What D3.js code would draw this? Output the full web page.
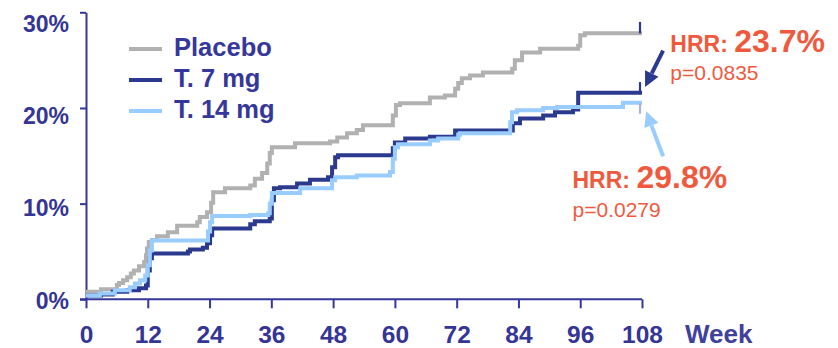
<!DOCTYPE html>
<html>
<head>
<meta charset="utf-8">
<script src="https://cdn.jsdelivr.net/npm/d3@7"></script>
<style>
  html, body { margin: 0; padding: 0; background: #ffffff; }
  svg { display: block; font-family: "Liberation Sans", Arial, sans-serif; }
</style>
</head>
<body>
<svg id="chart" width="838" height="348"></svg>
<script>
// ---------- data ----------
const xTicks = [0, 12, 24, 36, 48, 60, 72, 84, 96, 108];
const yTicks = [0, 10, 20, 30];
const xTitle = "Week";

const seriesNames = ["Placebo", "T. 7 mg", "T. 14 mg"];

// [week, cumulative %] step points (value holds until the next week)
const placebo = [
  [0, 0.78], [2.9, 1.05], [6.0, 1.5], [6.4, 1.7], [7.2, 2.0], [8.0, 2.3], [8.7, 2.7],
  [9.3, 3.0], [10.3, 3.45], [11.3, 3.9], [11.65, 4.6], [11.85, 5.3], [12.2, 6.0],
  [12.8, 6.2], [13.8, 6.6], [15.9, 7.0], [17.7, 7.7], [21.6, 8.05], [22.1, 8.6],
  [23.5, 9.1], [24.3, 10.1], [24.7, 11.2], [27.0, 11.6], [31.9, 11.9], [32.8, 12.6],
  [34.2, 13.2], [35.2, 14.2], [35.7, 15.3], [36.1, 15.9], [40.6, 16.3], [47.4, 16.5],
  [48.8, 16.9], [50.7, 17.35], [52.6, 17.7], [53.8, 18.2], [59.6, 19.2], [60.2, 20.3],
  [61.0, 20.5], [66.8, 21.1], [69.7, 21.3], [71.7, 22.0], [72.3, 22.6], [73.0, 23.1],
  [74.6, 23.4], [77.1, 23.7], [82.8, 24.1], [83.3, 25.0], [84.7, 25.8], [88.2, 26.2],
  [95.6, 26.5], [96.0, 27.6], [96.9, 27.8]
];
const t7mg = [
  [0, 0.4], [2.9, 0.5], [5.2, 0.8], [8.0, 0.95], [10.3, 1.15], [11.65, 1.45],
  [12.0, 3.0], [12.4, 4.3], [12.8, 4.8], [19.8, 5.0], [20.2, 5.2], [22.7, 5.4],
  [23.5, 5.85], [24.1, 6.7], [24.5, 7.4], [31.9, 7.85], [32.8, 8.15], [35.7, 8.45],
  [36.1, 10.35], [36.5, 11.6], [37.7, 11.7], [41.0, 12.1], [43.5, 12.5], [47.0, 12.75],
  [47.8, 13.8], [48.4, 14.85], [48.95, 15.05], [59.6, 15.8], [60.0, 16.4], [62.0, 16.8],
  [66.8, 17.0], [71.7, 17.65], [82.9, 18.4], [84.3, 18.9], [88.8, 19.2], [91.1, 19.55],
  [94.6, 19.85], [95.6, 21.6]
];
const t14mg = [
  [0, 0.4], [2.7, 0.6], [5.6, 0.95], [8.5, 1.25], [9.5, 1.65], [10.5, 2.0],
  [11.5, 2.5], [12.0, 3.55], [12.4, 5.1], [12.8, 6.15], [23.7, 7.1], [24.1, 8.05],
  [24.5, 8.7], [31.9, 8.8], [35.4, 9.0], [35.7, 10.0], [36.1, 11.1], [41.6, 11.6],
  [47.8, 12.45], [48.4, 12.75], [52.6, 12.95], [59.05, 13.3], [59.6, 14.7], [60.0, 15.9],
  [60.6, 16.2], [66.8, 16.6], [68.4, 16.8], [72.3, 17.2], [72.65, 17.35], [82.4, 18.5],
  [82.75, 19.55], [83.7, 19.75], [88.8, 20.0], [91.5, 20.1], [104.3, 20.55]
];
const endWeek = 108;
// censor ticks at end of follow-up: [from %, to %]
const censorTicks = [[27.8, 29.0], [21.6, 22.7], [20.5, 19.4]];

// annotations
const hrrLabels = ["HRR:", "HRR:"];
const hrrValues = ["23.7%", "29.8%"];
const pValues = ["p=0.0835", "p=0.0279"];

// ---------- styles / layout ----------
const lineColors = ["#b1b1b1", "#2b3a8e", "#99ccff"];
const censorColors = ["#2b3a8e", "#2b3a8e", "#aab2e0"];
const axisColor = "#36379a";
const textColor = "#343595";
const hrrColor = "#ef5a3e";

const svg = d3.select("#chart");

const x = d3.scaleLinear().domain([0, 108]).range([86, 642]);
const y = d3.scaleLinear().domain([0, 30]).range([299.3, 12.3]);
const yLab = d3.scaleLinear().domain([0, 30]).range([308, 31]);

// y axis (ticks only)
const gy = svg.append("g").attr("transform", `translate(${x(0)},0)`)
  .call(d3.axisLeft(y).tickValues(yTicks).tickSize(6).tickSizeOuter(0).tickFormat(""));
gy.selectAll("path,line").attr("stroke", axisColor).attr("stroke-width", 2);

// y labels
const gyl = svg.append("g").attr("transform", `translate(69,0)`)
  .call(d3.axisLeft(yLab).tickValues(yTicks).tickSize(0).tickPadding(0).tickFormat(d => d + "%"));
gyl.select(".domain").remove();
gyl.selectAll("text")
  .attr("dy", 0).attr("x", 0)
  .attr("text-anchor", "end")
  .attr("fill", textColor)
  .style("font-family", '"Liberation Sans", Arial, sans-serif')
  .style("font-weight", "bold").style("font-size", "23px");

// x axis
const gx = svg.append("g").attr("transform", `translate(0,${y(0)})`)
  .call(d3.axisBottom(x).tickValues(xTicks).tickSize(9).tickSizeOuter(0).tickFormat(d => d));
gx.selectAll("path,line").attr("stroke", axisColor).attr("stroke-width", 2);
gx.selectAll("text")
  .attr("y", 44).attr("dy", 0)
  .attr("fill", textColor)
  .style("font-family", '"Liberation Sans", Arial, sans-serif')
  .style("font-weight", "bold").style("font-size", "24.5px");
// extend x axis line to meet y tick
gx.select(".domain").attr("d", `M${x(0) - 6},0H${x(108)}`);

svg.append("text").attr("x", 685).attr("y", 343)
  .attr("fill", "#40419b")
  .style("font-weight", "bold").style("font-size", "26px")
  .text(xTitle);

// curves
const line = d3.line().x(d => x(d[0])).y(d => y(d[1])).curve(d3.curveStepAfter);
const allSeries = [placebo, t7mg, t14mg];
allSeries.forEach((s, i) => {
  const pts = s.concat([[endWeek, s[s.length - 1][1]]]);
  svg.append("path").datum(pts)
    .attr("d", line)
    .attr("fill", "none")
    .attr("stroke", lineColors[i])
    .attr("stroke-width", 4)
    .attr("stroke-linejoin", "miter");
});
censorTicks.forEach((c, i) => {
  svg.append("line")
    .attr("x1", x(endWeek) - 2).attr("x2", x(endWeek) - 2)
    .attr("y1", y(c[0])).attr("y2", y(c[1]))
    .attr("stroke", censorColors[i]).attr("stroke-width", 2.2);
});

// legend
const legend = svg.append("g");
seriesNames.forEach((n, i) => {
  const cy = 49 + i * 31;
  legend.append("line").attr("x1", 129).attr("x2", 162).attr("y1", cy).attr("y2", cy)
    .attr("stroke", lineColors[i]).attr("stroke-width", 4);
  legend.append("text").attr("x", 174).attr("y", cy + 7)
    .attr("fill", "#36379a")
    .style("font-weight", "bold").style("font-size", "25.5px")
    .text(n);
});

// annotations (positions in data units)
const annot = [
  { tx: 113.5, hy: 52, py: 80 },
  { tx: 94.5, hy: 188.3, py: 216.5 }
];
annot.forEach((a, i) => {
  const t = svg.append("text").attr("x", x(a.tx)).attr("y", a.hy)
    .attr("fill", hrrColor).style("font-weight", "bold");
  t.append("tspan").style("font-size", "23px").text(hrrLabels[i] + " ");
  t.append("tspan").style("font-size", "32px").text(hrrValues[i]);
  svg.append("text").attr("x", x(a.tx)).attr("y", a.py)
    .attr("fill", hrrColor).style("font-size", "21px")
    .text(pValues[i]);
});

// arrows: [tailWeek, tailPct, tipWeek, tipPct]
const arrows = [
  { from: [112.1, 26.0], to: [108.6, 22.2], color: "#2b3a8e" },
  { from: [112.1, 14.95], to: [108.8, 19.65], color: "#99ccff" }
];
arrows.forEach(a => {
  const x1 = x(a.from[0]), y1 = y(a.from[1]), x2 = x(a.to[0]), y2 = y(a.to[1]);
  const ang = Math.atan2(y2 - y1, x2 - x1);
  const hl = 15, hw = 7.5;
  const bx = x2 - hl * Math.cos(ang), by = y2 - hl * Math.sin(ang);
  svg.append("line").attr("x1", x1).attr("y1", y1).attr("x2", bx).attr("y2", by)
    .attr("stroke", a.color).attr("stroke-width", 4);
  const px = -Math.sin(ang), py = Math.cos(ang);
  svg.append("path")
    .attr("d", `M${x2},${y2}L${bx + px * hw},${by + py * hw}L${bx - px * hw},${by - py * hw}Z`)
    .attr("fill", a.color);
});
</script>
</body>
</html>
